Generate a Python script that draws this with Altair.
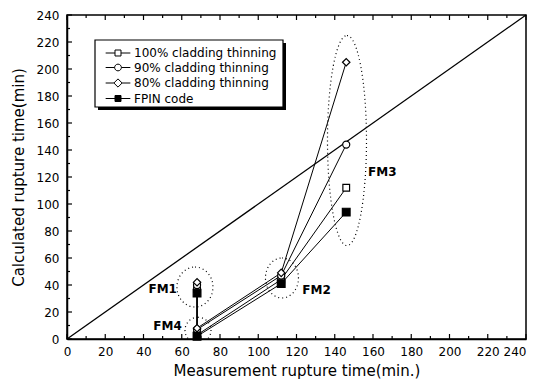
import altair as alt
import pandas as pd

# ---------------- data ----------------
series = ["100% cladding thinning", "\u200790% cladding thinning",
          "\u200780% cladding thinning", "FPIN code"]
cases = ["FM1", "FM4", "FM2", "FM3"]
measured = [68, 68, 112, 146]
calc_100 = [37, 3, 44, 112]
calc_90 = [40, 7, 47, 144]
calc_80 = [42, 8, 49, 205]
calc_fpin = [34, 2, 41, 94]

diag = [0, 240]
major_ticks = list(range(0, 241, 20))
minor_ticks = list(range(10, 240, 20))

cluster_names = ["FM1", "FM2", "FM3", "FM4"]
cluster_x = [66.9, 112.4, 146.4, 68.5]
cluster_y = [38.5, 45.2, 147, 6.5]

label_names = ["FM1", "FM2", "FM3", "FM4"]
label_x = [57.5, 123.0, 157.4, 60.0]
label_y = [37.0, 36.3, 123.7, 9.6]
label_align = ["right", "left", "left", "right"]

# ---------------- tables ----------------
rows = []
for s, vals in zip(series, [calc_100, calc_90, calc_80, calc_fpin]):
    for i, (c, m, v) in enumerate(zip(cases, measured, vals)):
        rows.append({"series": s, "case": c, "order": i, "meas": m, "calc": v})
df = pd.DataFrame(rows)

W, H = 459, 324
FONT = "DejaVu Sans"
xs = alt.Scale(domain=[0, 240], nice=False)
ys = alt.Scale(domain=[0, 240], nice=False)

xaxis = alt.Axis(values=major_ticks, ticks=False, tickSize=0, labelPadding=7,
                 labelOverlap=False, labelFlush=False,
                 labelAlign=alt.ExprRef("datum.value >= 240 ? 'right' : 'center'"),
                 title="Measurement rupture time(min.)", grid=False, titlePadding=6)
yaxis = alt.Axis(values=major_ticks, ticks=False, tickSize=0, labelPadding=8,
                 labelOverlap=False, labelFlush=False,
                 title="Calculated rupture time(min)", grid=False, titlePadding=10)


def X(f):
    return alt.X(f, scale=xs, axis=xaxis)


def Y(f):
    return alt.Y(f, scale=ys, axis=yaxis)


# diagonal
diag_df = pd.DataFrame({"x": diag, "y": diag})
diag_layer = alt.Chart(diag_df).mark_line(color="black", strokeWidth=1.3).encode(
    x=X("x:Q"), y=Y("y:Q"),
)

# dotted ellipses (sizes in pixels are style)
ell_size = {"FM1": (36, 40), "FM2": (33, 40), "FM3": (39, 210), "FM4": (26, 26)}
ell_layers = []
for n, cx, cy in zip(cluster_names, cluster_x, cluster_y):
    w, h = ell_size[n]
    d = max(w, h)
    a, b = w / d, h / d
    path = (f"M0,{-b} A{a},{b} 0 1,1 0,{b} A{a},{b} 0 1,1 0,{-b} Z")
    ell_layers.append(
        alt.Chart(pd.DataFrame({"x": [cx], "y": [cy]})).mark_point(
            shape=path, size=d * d, filled=False, stroke="black",
            strokeWidth=1.2, strokeDash=[1, 3], opacity=1, clip=True
        ).encode(x=X("x:Q"), y=Y("y:Q"))
    )

# series lines
lines = alt.Chart(df).mark_line(color="black", strokeWidth=1).encode(
    x=X("meas:Q"), y=Y("calc:Q"), detail="series:N", order="order:Q",
)

# points
pts = alt.Chart(df).mark_point(stroke="black", strokeWidth=1.2, opacity=1).encode(
    x=X("meas:Q"), y=Y("calc:Q"),
    shape=alt.Shape("series:N", scale=alt.Scale(domain=series,
                    range=["square", "circle", "diamond", "square"]), legend=None),
    fill=alt.Fill("series:N", scale=alt.Scale(domain=series,
                  range=["white", "white", "white", "black"]), legend=None),
    size=alt.Size("series:N", scale=alt.Scale(domain=series,
                  range=[45, 60, 85, 45]), legend=None),
)

# axis ticks (inward)
maj = pd.DataFrame({"t": major_ticks})
mnr = pd.DataFrame({"t": minor_ticks})
tick_layers = []
for dd, ln in [(maj, 5), (mnr, 3)]:
    tick_layers.append(alt.Chart(dd).mark_rule(color="black", strokeWidth=1.2).encode(
        x=X("t:Q"), y=alt.value(H), y2=alt.value(H - ln)))
    tick_layers.append(alt.Chart(dd).mark_rule(color="black", strokeWidth=1.2).encode(
        x=X("t:Q"), y=alt.value(0), y2=alt.value(ln)))
    tick_layers.append(alt.Chart(dd).mark_rule(color="black", strokeWidth=1.2).encode(
        y=Y("t:Q"), x=alt.value(0), x2=alt.value(ln)))

# legend box with shadow
one = alt.Data(values=[{"a": 1}])
shadow = alt.Chart(one).mark_rect(color="black").encode(
    x=alt.value(31), x2=alt.value(219), y=alt.value(28), y2=alt.value(95))
box = alt.Chart(one).mark_rect(fill="white", stroke="black", strokeWidth=1.2).encode(
    x=alt.value(28), x2=alt.value(216), y=alt.value(25), y2=alt.value(92))

sq = "M-3.3,0H-0.8M0.8,0H3.3M-0.8,-0.8H0.8V0.8H-0.8Z"
ci = "M-3.3,0H-0.9M0.9,0H3.3M-0.9,0A0.9,0.9 0 1,0 0.9,0A0.9,0.9 0 1,0 -0.9,0Z"
di = "M-3.3,0H-1.1M1.1,0H3.3M-1.1,0L0,-1.1L1.1,0L0,1.1Z"
leg = alt.Legend(title=None, orient="none", legendX=45, legendY=32, padding=0,
                 symbolSize=56, symbolStrokeColor="black", symbolStrokeWidth=1,
                 symbolOpacity=1, labelOffset=10, rowPadding=2.5,
                 labelFont=FONT, labelFontSize=12, labelColor="black", labelLimit=300)
legend_layer = alt.Chart(df).mark_point(size=0, opacity=1).encode(
    x=X("meas:Q"), y=Y("calc:Q"),
    shape=alt.Shape("series:N", scale=alt.Scale(domain=series, range=[sq, ci, di, sq]),
                    legend=leg),
    fill=alt.Fill("series:N", scale=alt.Scale(domain=series,
                  range=["white", "white", "white", "black"]), legend=leg),
    stroke=alt.Stroke("series:N", scale=alt.Scale(domain=series,
                      range=["black", "black", "black", "black"]), legend=leg),
)

# cluster labels
lab_df = pd.DataFrame({"name": label_names, "x": label_x, "y": label_y, "al": label_align})
lab_layers = []
for al in ["left", "right"]:
    lab_layers.append(alt.Chart(lab_df[lab_df.al == al]).mark_text(
        align=al, baseline="middle", font=FONT, fontSize=12, fontWeight="bold",
        color="black").encode(x=X("x:Q"), y=Y("y:Q"), text="name:N"))

chart = alt.layer(
    diag_layer, *ell_layers, lines, pts, *tick_layers, shadow, box, legend_layer,
    *lab_layers
).resolve_scale(shape="independent", fill="independent", size="independent",
                stroke="independent").properties(
    width=W, height=H,
    autosize=alt.AutoSizeParams(type="none"),
    padding={"left": 59, "top": 7, "right": 2, "bottom": 40},
).configure_view(stroke="black", strokeWidth=1.5).configure_axis(
    domainColor="black", domainWidth=1.5, labelFont=FONT, labelFontSize=12,
    labelFontWeight="normal",
    labelColor="black", titleFont=FONT, titleFontSize=15, titleFontWeight="normal",
    titleColor="black", labelOverlap=False,
)

chart.save("out.html", embed_options={"renderer": "svg", "actions": False})
